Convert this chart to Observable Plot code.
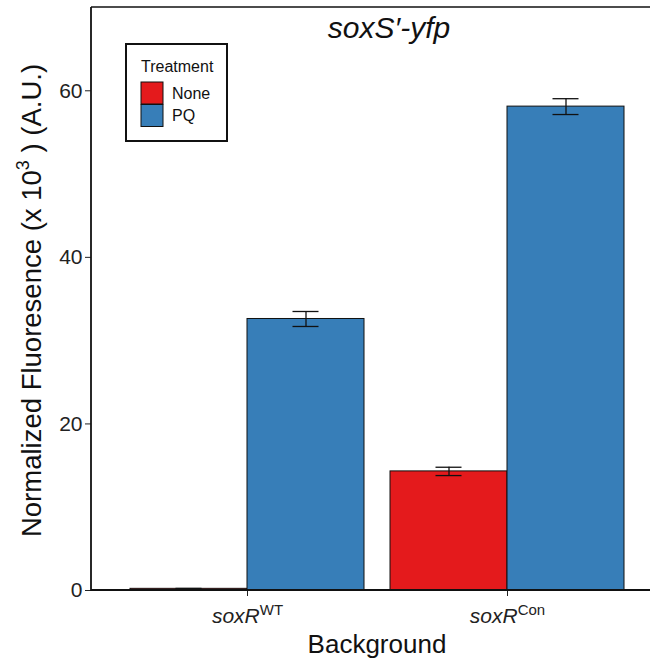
<!DOCTYPE html>
<html>
<head>
<meta charset="utf-8">
<script src="https://cdn.jsdelivr.net/npm/d3@7"></script>
<script src="https://cdn.jsdelivr.net/npm/@observablehq/plot@0.6"></script>
<style>
  html, body { margin: 0; padding: 0; background: #fff; }
  #chart { width: 650px; height: 660px; }
  svg { font-family: "Liberation Sans", Arial, Helvetica, sans-serif; }
</style>
</head>
<body>
<div id="chart"></div>
<script>
// Genetic background (x groups) and treatment (dodged bars)
const backgrounds = ["WT", "Con"];
const treatments = ["None", "PQ"];

// Mean normalized fluorescence (x 10^3, A.U.) per background
const noneMean = [0.2, 14.3];
const pqMean = [32.6, 58.1];
// Error bar half-widths
const noneErr = [0.05, 0.5];
const pqErr = [0.9, 0.95];

const yTicks = [0, 20, 40, 60];
const fillColors = ["#E41A1C", "#377EB8"];

const series = treatments.map((trt, j) => backgrounds.map((bg, i) => ({
  bg, trt,
  mean: (j === 0 ? noneMean : pqMean)[i],
  err: (j === 0 ? noneErr : pqErr)[i]
})));

const W = 650, H = 660;
const mL = 91, mR = -13, mT = 7, mB = 70;
const padIn = 0.1, padOut = 0.15;
// band geometry: each background band holds two side-by-side bars
const step = (W - mL - mR) / (backgrounds.length - padIn + 2 * padOut);
const band = step * (1 - padIn);
const half = band / 2;
const cap = 26;

const ink = "#111";
const marks = [];
series.forEach((rows, j) => {
  const side = j === 0 ? -1 : 1;
  const barInset = j === 0 ? {insetRight: half} : {insetLeft: half};
  const cx = half / 2 + j * half;            // bar centre measured from band start
  const capInset = {insetLeft: cx - cap / 2, insetRight: band - cx - cap / 2};
  marks.push(
    // "None" is also a CSS keyword, so force the treatment through the color scale
    Plot.barY(rows, {x: "bg", y: "mean", fill: {value: "trt", scale: "color"}, stroke: ink, strokeWidth: 1, ...barInset}),
    Plot.ruleX(rows, {x: "bg", y1: d => d.mean - d.err, y2: d => d.mean + d.err, dx: side * half / 2, stroke: ink, strokeWidth: 1.3}),
    Plot.tickY(rows, {x: "bg", y: d => d.mean - d.err, stroke: ink, strokeWidth: 1.3, ...capInset}),
    Plot.tickY(rows, {x: "bg", y: d => d.mean + d.err, stroke: ink, strokeWidth: 1.3, ...capInset})
  );
});

const plot = Plot.plot({
  width: W,
  height: H,
  marginLeft: mL,
  marginRight: mR,
  marginTop: mT,
  marginBottom: mB,
  style: {fontFamily: "'Liberation Sans', Arial, sans-serif", fontSize: "21px", color: "#222", background: "white", overflow: "visible"},
  x: {domain: backgrounds, paddingInner: padIn, paddingOuter: padOut, label: null, tickSize: 6, tickPadding: 12, tickFormat: d => "soxR" + d},
  y: {domain: [0, 70], ticks: yTicks, tickSize: 6, tickPadding: 3, label: null},
  color: {type: "ordinal", domain: treatments, range: fillColors},
  marks
});
document.getElementById("chart").appendChild(plot);

const svg = d3.select(plot);
const yS = plot.scale("y");
const y0 = yS.apply(0), yTop = yS.apply(70);

// axis lines and top rule
svg.append("line").attr("x1", mL).attr("x2", W + 20).attr("y1", y0).attr("y2", y0)
  .attr("stroke", ink).attr("stroke-width", 1.8);
svg.append("line").attr("x1", mL).attr("x2", mL).attr("y1", yTop).attr("y2", y0 + 1)
  .attr("stroke", ink).attr("stroke-width", 1.8);
svg.append("line").attr("x1", mL).attr("x2", W + 20).attr("y1", yTop).attr("y2", yTop)
  .attr("stroke", ink).attr("stroke-width", 1.5);

// italic gene name with superscripted allele on the background ticks
svg.selectAll("text").each(function() {
  const t = this.textContent;
  const bg = backgrounds.find(b => t === "soxR" + b);
  if (!bg) return;
  const el = d3.select(this);
  el.text(null);
  el.append("tspan").attr("font-style", "italic").text("soxR");
  el.append("tspan").attr("font-size", "15px").attr("dy", "-0.55em").text(bg);
});

// axis titles
svg.append("text").attr("x", (mL + W - mR) / 2).attr("y", 653).attr("text-anchor", "middle")
  .attr("font-size", 26).attr("fill", ink).text("Background");

const yl = svg.append("text").attr("transform", `translate(41,${(y0 + yTop) / 2 + 2}) rotate(-90)`)
  .attr("text-anchor", "middle").attr("font-size", 27.5).attr("fill", ink);
yl.append("tspan").text("Normalized Fluoresence (x 10");
yl.append("tspan").attr("font-size", 18).attr("dy", -12).text("3");
yl.append("tspan").attr("dy", 12).text(" ) (A.U.)");

// title
svg.append("text").attr("x", 389).attr("y", 38).attr("text-anchor", "middle")
  .attr("font-size", 30).attr("font-style", "italic").attr("fill", ink).text("soxS\u2032-yfp");

// legend
const lg = svg.append("g").attr("text-anchor", "start");
lg.append("rect").attr("x", 126).attr("y", 44).attr("width", 101).attr("height", 97)
  .attr("fill", "white").attr("stroke", ink).attr("stroke-width", 2);
lg.append("text").attr("x", 141).attr("y", 72).attr("font-size", 16).attr("fill", ink).text("Treatment");
const colorS = plot.scale("color");
treatments.forEach((t, i) => {
  lg.append("rect").attr("x", 141).attr("y", 82 + i * 22.5).attr("width", 22).attr("height", 22)
    .attr("fill", colorS.apply(t)).attr("stroke", ink).attr("stroke-width", 1);
  lg.append("text").attr("x", 172).attr("y", 98.5 + i * 22.5).attr("font-size", 16).attr("fill", ink).text(t);
});
</script>
</body>
</html>
